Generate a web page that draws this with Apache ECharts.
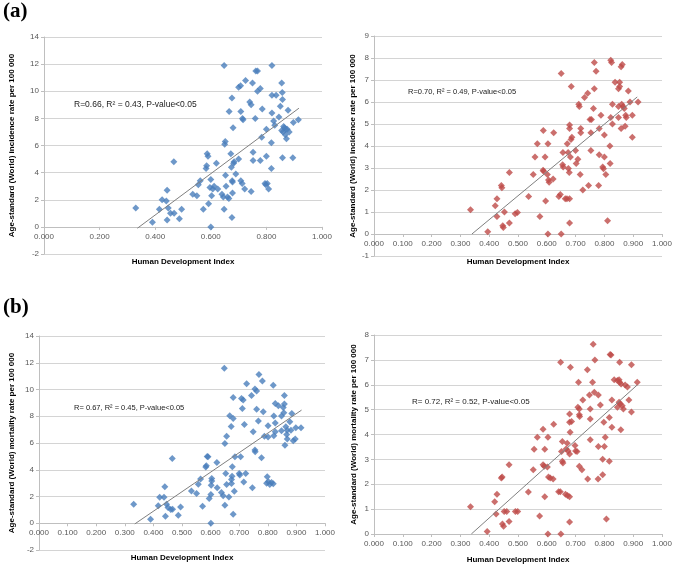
<!DOCTYPE html>
<html lang="en">
<head>
    <meta charset="UTF-8">
    <title>HDI scatter</title>
    <script type="text/javascript" src="https://cdn.jsdelivr.net/npm/echarts@6/dist/echarts.min.js"></script>
    <style>
        html, body { margin: 0; padding: 0; background: #fff; }
        #main { width: 675px; height: 567px; }
    </style>
</head>
<body>
<div id="main"></div>
<script>
    // (a) incidence, (b) mortality ; [HDI, rate per 100 000]
    var incidenceBlue = [[0.33,1.4],[0.39,0.35],[0.415,1.3],[0.425,2.0],[0.44,1.9],[0.443,2.7],[0.443,0.5],[0.447,1.4],[0.455,1.0],[0.467,4.8],[0.468,1.0],[0.487,0.6],[0.495,1.3],[0.535,2.4],[0.55,2.3],[0.555,3.1],[0.562,3.4],[0.573,1.3],[0.583,4.3],[0.585,4.5],[0.587,5.4],[0.59,5.2],[0.592,1.7],[0.597,2.9],[0.60,3.5],[0.60,0.0],[0.603,2.3],[0.607,2.8],[0.612,3.0],[0.62,4.7],[0.625,2.8],[0.64,2.4],[0.645,2.2],[0.648,1.3],[0.648,11.9],[0.65,6.1],[0.652,6.3],[0.653,3.8],[0.655,3.0],[0.66,2.2],[0.665,2.1],[0.666,8.5],[0.672,5.4],[0.674,4.4],[0.676,9.5],[0.677,3.4],[0.678,3.3],[0.678,2.5],[0.676,0.7],[0.68,7.3],[0.682,4.7],[0.684,4.8],[0.69,3.9],[0.70,5.0],[0.70,10.3],[0.707,10.4],[0.708,8.5],[0.708,3.4],[0.713,3.2],[0.714,8.0],[0.716,7.9],[0.722,2.8],[0.725,10.8],[0.74,9.2],[0.745,9.0],[0.745,2.6],[0.75,10.6],[0.752,5.5],[0.752,4.9],[0.76,8.0],[0.762,11.5],[0.768,11.5],[0.768,10.0],[0.778,10.2],[0.778,4.9],[0.783,6.6],[0.785,8.7],[0.795,3.2],[0.798,3.1],[0.80,5.2],[0.80,7.2],[0.803,3.2],[0.808,2.8],[0.818,4.3],[0.818,6.2],[0.82,11.9],[0.82,9.7],[0.82,8.4],[0.826,7.8],[0.83,7.5],[0.835,9.7],[0.845,8.1],[0.85,8.9],[0.855,10.6],[0.857,9.9],[0.858,9.4],[0.858,5.1],[0.855,7.1],[0.86,7.0],[0.862,7.4],[0.865,7.3],[0.868,6.8],[0.87,7.2],[0.872,6.5],[0.875,7.2],[0.878,8.6],[0.882,7.0],[0.895,5.1],[0.897,7.7],[0.915,7.9]];
    var incidenceRed = [[0.335,1.1],[0.395,0.1],[0.421,1.28],[0.427,1.6],[0.427,0.8],[0.442,2.2],[0.444,2.1],[0.447,0.38],[0.449,0.3],[0.453,1.0],[0.47,2.8],[0.47,0.5],[0.49,0.92],[0.498,0.98],[0.537,1.7],[0.553,2.7],[0.559,3.5],[0.567,4.1],[0.576,0.8],[0.588,4.7],[0.587,2.9],[0.589,2.85],[0.594,3.5],[0.596,1.5],[0.602,2.7],[0.604,4.1],[0.604,0.0],[0.606,2.45],[0.608,2.35],[0.622,2.5],[0.624,4.6],[0.642,1.7],[0.647,1.8],[0.65,7.3],[0.65,0.0],[0.656,3.7],[0.655,3.15],[0.657,3.05],[0.664,1.6],[0.67,1.6],[0.679,1.6],[0.671,4.1],[0.674,3.7],[0.675,2.98],[0.678,2.8],[0.679,4.95],[0.679,4.8],[0.682,3.5],[0.679,0.5],[0.685,6.7],[0.684,4.3],[0.687,4.4],[0.70,3.8],[0.702,3.2],[0.708,3.4],[0.711,5.9],[0.713,5.8],[0.716,2.7],[0.718,4.8],[0.718,4.6],[0.725,2.0],[0.731,6.2],[0.742,6.4],[0.745,2.2],[0.75,5.2],[0.755,5.2],[0.753,4.6],[0.753,3.8],[0.762,5.7],[0.765,7.8],[0.765,6.6],[0.771,7.4],[0.782,4.8],[0.782,3.6],[0.78,2.2],[0.788,5.4],[0.794,3.05],[0.797,2.97],[0.80,4.5],[0.80,3.5],[0.805,2.7],[0.811,0.6],[0.819,4.0],[0.82,3.2],[0.822,5.3],[0.822,7.9],[0.825,7.8],[0.828,5.9],[0.828,5.0],[0.837,6.9],[0.849,5.8],[0.849,5.3],[0.849,6.6],[0.853,6.7],[0.853,6.9],[0.858,7.6],[0.862,7.7],[0.858,4.8],[0.86,5.9],[0.865,5.8],[0.869,5.7],[0.872,4.9],[0.874,5.4],[0.876,5.3],[0.883,6.5],[0.889,6.0],[0.897,4.4],[0.897,5.4],[0.917,6.0]];
    var mortalityBlue = [[0.331,1.42],[0.39,0.3],[0.417,1.3],[0.422,1.95],[0.437,1.95],[0.44,2.72],[0.442,0.52],[0.446,1.42],[0.451,1.17],[0.461,1.02],[0.466,4.84],[0.467,1.05],[0.487,0.6],[0.495,1.22],[0.533,2.42],[0.551,2.22],[0.557,2.92],[0.565,3.3],[0.572,1.27],[0.583,4.2],[0.585,4.3],[0.588,5.0],[0.591,4.97],[0.595,1.85],[0.601,2.15],[0.604,3.35],[0.604,3.15],[0.602,2.85],[0.601,0.0],[0.622,4.54],[0.623,2.65],[0.638,2.3],[0.644,2.05],[0.648,11.58],[0.65,5.96],[0.65,1.35],[0.656,6.5],[0.653,3.72],[0.656,2.9],[0.664,1.97],[0.667,8.04],[0.672,7.24],[0.673,3.27],[0.673,2.97],[0.675,3.52],[0.676,4.22],[0.679,9.41],[0.679,7.84],[0.679,0.67],[0.683,2.4],[0.685,4.97],[0.70,3.72],[0.702,3.6],[0.705,4.97],[0.708,9.33],[0.714,9.21],[0.711,8.58],[0.716,3.09],[0.718,7.39],[0.726,10.43],[0.723,3.72],[0.743,9.56],[0.746,2.65],[0.749,6.84],[0.755,10.04],[0.761,9.88],[0.755,5.47],[0.756,5.34],[0.761,8.53],[0.767,7.64],[0.769,11.13],[0.781,10.63],[0.778,4.89],[0.784,8.34],[0.788,6.51],[0.796,3.0],[0.802,3.1],[0.807,2.9],[0.813,3.05],[0.819,2.95],[0.798,3.47],[0.801,6.44],[0.801,7.29],[0.819,10.31],[0.821,8.01],[0.821,6.54],[0.826,6.84],[0.826,7.49],[0.826,8.96],[0.837,8.78],[0.848,8.01],[0.848,6.91],[0.854,8.66],[0.858,9.56],[0.858,8.91],[0.856,8.26],[0.86,5.84],[0.863,7.21],[0.866,6.64],[0.868,6.29],[0.868,6.96],[0.877,7.59],[0.881,6.96],[0.884,8.21],[0.889,6.16],[0.896,6.29],[0.898,7.14],[0.916,7.14]];
    var mortalityRed = [[0.335,1.1],[0.393,0.1],[0.419,1.3],[0.427,1.6],[0.424,0.8],[0.442,2.25],[0.445,2.29],[0.446,0.4],[0.45,0.31],[0.452,0.9],[0.461,0.9],[0.469,2.78],[0.469,0.5],[0.491,0.9],[0.499,0.9],[0.536,1.69],[0.553,2.58],[0.556,3.41],[0.567,3.89],[0.575,0.72],[0.587,4.21],[0.587,2.78],[0.591,2.72],[0.593,3.41],[0.593,1.5],[0.602,2.69],[0.604,3.89],[0.604,0.0],[0.606,2.29],[0.612,2.25],[0.622,2.21],[0.624,4.41],[0.641,1.7],[0.647,1.7],[0.648,6.9],[0.649,0.0],[0.654,3.72],[0.654,2.92],[0.656,2.85],[0.651,3.32],[0.665,1.6],[0.672,1.55],[0.679,1.5],[0.667,3.42],[0.671,3.65],[0.674,3.34],[0.679,3.22],[0.679,4.82],[0.679,4.49],[0.686,4.52],[0.681,4.09],[0.679,0.48],[0.682,6.7],[0.698,3.56],[0.70,3.34],[0.705,3.32],[0.708,5.1],[0.713,5.03],[0.71,6.1],[0.713,4.79],[0.714,4.72],[0.713,2.72],[0.722,2.58],[0.725,5.39],[0.741,6.6],[0.742,2.21],[0.748,5.59],[0.751,5.03],[0.751,4.62],[0.751,3.79],[0.759,6.1],[0.761,7.63],[0.765,5.7],[0.767,7.0],[0.779,5.59],[0.779,3.52],[0.778,2.21],[0.786,5.19],[0.794,2.38],[0.794,3.01],[0.798,4.49],[0.80,3.52],[0.803,3.89],[0.807,0.6],[0.817,4.68],[0.817,2.92],[0.82,7.22],[0.823,7.2],[0.826,5.39],[0.826,4.29],[0.834,6.2],[0.845,6.17],[0.851,6.2],[0.853,6.1],[0.858,6.03],[0.845,5.1],[0.851,5.3],[0.855,5.23],[0.862,5.16],[0.853,6.9],[0.857,4.19],[0.866,5.03],[0.872,5.99],[0.88,5.91],[0.885,5.39],[0.894,6.8],[0.894,4.9],[0.914,6.1]];

    // fitted lines (start, end)
    var trendIncBlue = [[0.336,-0.1],[0.917,8.75]];
    var trendIncRed = [[0.34,0.0],[0.914,6.23]];
    var trendMortBlue = [[0.335,-0.05],[0.918,8.46]];
    var trendMortRed = [[0.338,0.0],[0.914,5.99]];

    var statTexts = ['R=0.66, R\u00b2 = 0.43, P-value<0.05', 'R=0.70, R\u00b2 = 0.49, P-value<0.05',
        'R= 0.67, R\u00b2 = 0.45, P-value<0.05', 'R= 0.72, R\u00b2 = 0.52, P-value<0.05'];
    var yNames = ['Age-standard (World) incidence rate per 100 000', 'Age-standard (World) incidence rate per 100 000',
        'Age-standard (World) mortality rate per 100 000', 'Age-standard (World) mortality rate per 100 000'];
    var xName = 'Human Development Index';

    var blue = '#4A7EBB', red = '#BE4B48';
    var font = 'Liberation Sans';

    var grids = [
        {left: 44, top: 37, width: 278, height: 217},
        {left: 374, top: 36, width: 291, height: 220},
        {left: 39, top: 336, width: 286, height: 214},
        {left: 374, top: 335, width: 291, height: 199}
    ];
    var yRange = [[-2, 14, 2], [-1, 9, 1], [-2, 14, 2], [0, 8, 1]];
    var xStep = [0.2, 0.1, 0.1, 0.1];
    var yGap = [28, 17, 23, 16];
    var xGap = [31, 24, 31, 22];

    var xAxes = [], yAxes = [], series = [];
    var sets = [incidenceBlue, incidenceRed, mortalityBlue, mortalityRed];
    var trends = [trendIncBlue, trendIncRed, trendMortBlue, trendMortRed];
    var colors = [blue, red, blue, red];

    for (var i = 0; i < 4; i++) {
        // horizontal axis sits on y = 0, like in Excel
        var zeroShift = -grids[i].height * (0 - yRange[i][0]) / (yRange[i][1] - yRange[i][0]);
        xAxes.push({
            type: 'value', gridIndex: i, min: 0, max: 1, interval: xStep[i],
            offset: zeroShift,
            name: xName, nameLocation: 'middle', nameGap: xGap[i],
            nameTextStyle: {fontFamily: font, fontSize: 8, fontWeight: 'bold', color: '#000'},
            axisLine: {onZero: false, lineStyle: {color: '#bfbfbf'}},
            axisTick: {show: true, length: 3, lineStyle: {color: '#bfbfbf'}},
            axisLabel: {fontFamily: font, fontSize: 8, color: '#595959', margin: 6,
                showMinLabel: true, showMaxLabel: true,
                formatter: function (v) { return v.toFixed(3); }},
            splitLine: {show: false}
        });
        yAxes.push({
            type: 'value', gridIndex: i, min: yRange[i][0], max: yRange[i][1], interval: yRange[i][2],
            name: yNames[i], nameLocation: 'middle', nameGap: yGap[i],
            nameTextStyle: {fontFamily: font, fontSize: 8, fontWeight: 'bold', color: '#000'},
            axisLine: {show: true, onZero: false, lineStyle: {color: '#bfbfbf'}},
            axisTick: {show: true, length: 3, lineStyle: {color: '#bfbfbf'}},
            axisLabel: {fontFamily: font, fontSize: 8, color: '#595959', margin: 5},
            splitLine: {show: true, lineStyle: {color: '#d4d4d4', width: 1}}
        });
        series.push({
            type: 'scatter', xAxisIndex: i, yAxisIndex: i, data: sets[i],
            symbol: 'diamond', symbolSize: 7, itemStyle: {color: colors[i]}
        });
        series.push({
            type: 'line', xAxisIndex: i, yAxisIndex: i, data: trends[i],
            showSymbol: false, silent: true, lineStyle: {color: '#808080', width: 1}
        });
    }

    var statPos = [[74, 100], [408, 88], [74, 404], [412, 398]];
    var statSize = [8.5, 7.5, 7.5, 8];
    var graphics = [
        {type: 'text', left: 3, top: 1, style: {text: '(a)', font: 'bold 21px "Liberation Serif"', fill: '#000'}},
        {type: 'text', left: 3, top: 297, style: {text: '(b)', font: 'bold 21px "Liberation Serif"', fill: '#000'}}
    ];
    for (var k = 0; k < 4; k++) {
        graphics.push({type: 'text', left: statPos[k][0], top: statPos[k][1],
            style: {text: statTexts[k], font: statSize[k] + 'px "' + font + '"', fill: '#222'}});
    }

    var chart = echarts.init(document.getElementById('main'));
    var option = {
        backgroundColor: '#fff',
        animation: false,
        grid: grids,
        xAxis: xAxes,
        yAxis: yAxes,
        series: series,
        graphic: graphics
    };
    chart.setOption(option);
</script>
</body>
</html>
